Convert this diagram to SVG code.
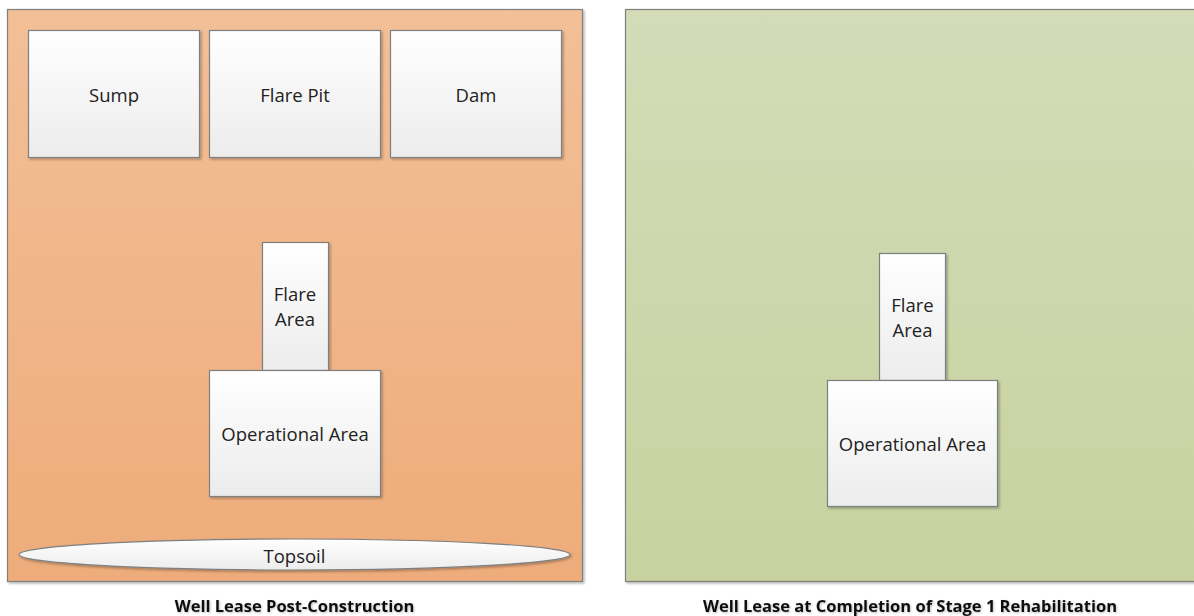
<svg xmlns="http://www.w3.org/2000/svg" width="1194" height="616" viewBox="0 0 1194 616">
  <defs>
    <linearGradient id="gOrange" x1="0" y1="0" x2="0" y2="1">
      <stop offset="0" stop-color="#f2bf97"/>
      <stop offset="1" stop-color="#eeac7a"/>
    </linearGradient>
    <linearGradient id="gGreen" x1="0" y1="0" x2="0" y2="1">
      <stop offset="0" stop-color="#d3dcb7"/>
      <stop offset="1" stop-color="#c7d2a0"/>
    </linearGradient>
    <linearGradient id="gBox" x1="0" y1="0" x2="0" y2="1">
      <stop offset="0" stop-color="#ffffff"/>
      <stop offset="1" stop-color="#ececec"/>
    </linearGradient>
    <filter id="shadow" x="-10%" y="-10%" width="130%" height="130%">
      <feDropShadow dx="1.5" dy="1.5" stdDeviation="1.2" flood-color="#000" flood-opacity="0.3"/>
    </filter>
    <filter id="textShadow" x="-5%" y="-20%" width="110%" height="160%">
      <feDropShadow dx="1" dy="1" stdDeviation="0.8" flood-color="#000" flood-opacity="0.25"/>
    </filter>
  </defs>
  <style>
    .panel { stroke: #7f7f7f; stroke-width: 1.2; filter: url(#shadow); }
    .box { fill: url(#gBox); stroke: #7f7f7f; stroke-width: 1.2; filter: url(#shadow); }
    .lbl { font-family: "Open Sans", "Liberation Sans", sans-serif; font-size: 18.5px; fill: #222; text-anchor: middle; dominant-baseline: central; }
    .title { font-family: "Open Sans", "Liberation Sans", sans-serif; font-size: 16.5px; font-weight: bold; fill: #111; text-anchor: middle; filter: url(#textShadow); }
  </style>

  <rect id="white-bg" x="0" y="0" width="1194" height="616" fill="#ffffff"/>

  <!-- Post-construction lease -->
  <g id="lease-post-construction">
    <rect class="panel" x="7.5" y="9.5" width="575" height="572" fill="url(#gOrange)"/>
  </g>
  <g id="sump">
    <rect class="box" x="28.5" y="30.5" width="171" height="127"/>
    <text class="lbl" x="114" y="94">Sump</text>
  </g>
  <g id="flare-pit">
    <rect class="box" x="209.5" y="30.5" width="171" height="127"/>
    <text class="lbl" x="295" y="94">Flare Pit</text>
  </g>
  <g id="dam">
    <rect class="box" x="390.5" y="30.5" width="171" height="127"/>
    <text class="lbl" x="476" y="94">Dam</text>
  </g>
  <g id="flare-area-1">
    <rect class="box" x="262.5" y="242.5" width="66" height="128"/>
    <text class="lbl" x="295" y="293">Flare</text>
    <text class="lbl" x="295" y="318">Area</text>
  </g>
  <g id="operational-area-1">
    <rect class="box" x="209.5" y="370.5" width="171" height="126"/>
    <text class="lbl" x="295" y="433">Operational Area</text>
  </g>
  <g id="topsoil">
    <ellipse class="box" cx="294.5" cy="554.5" rx="275.5" ry="15.5"/>
    <text class="lbl" x="294.5" y="555">Topsoil</text>
  </g>
  <text class="title" x="294.5" y="612">Well Lease Post-Construction</text>

  <!-- Lease after stage 1 rehabilitation -->
  <g id="lease-stage1">
    <rect class="panel" x="625.5" y="9.5" width="575" height="572" fill="url(#gGreen)"/>
  </g>
  <g id="flare-area-2">
    <rect class="box" x="879.5" y="253.5" width="66" height="127"/>
    <text class="lbl" x="912.5" y="304">Flare</text>
    <text class="lbl" x="912.5" y="329">Area</text>
  </g>
  <g id="operational-area-2">
    <rect class="box" x="827.5" y="380.5" width="170" height="126"/>
    <text class="lbl" x="912.5" y="443">Operational Area</text>
  </g>
  <text class="title" x="910" y="612">Well Lease at Completion of Stage 1 Rehabilitation</text>

  <g id="connectors"/>
</svg>
